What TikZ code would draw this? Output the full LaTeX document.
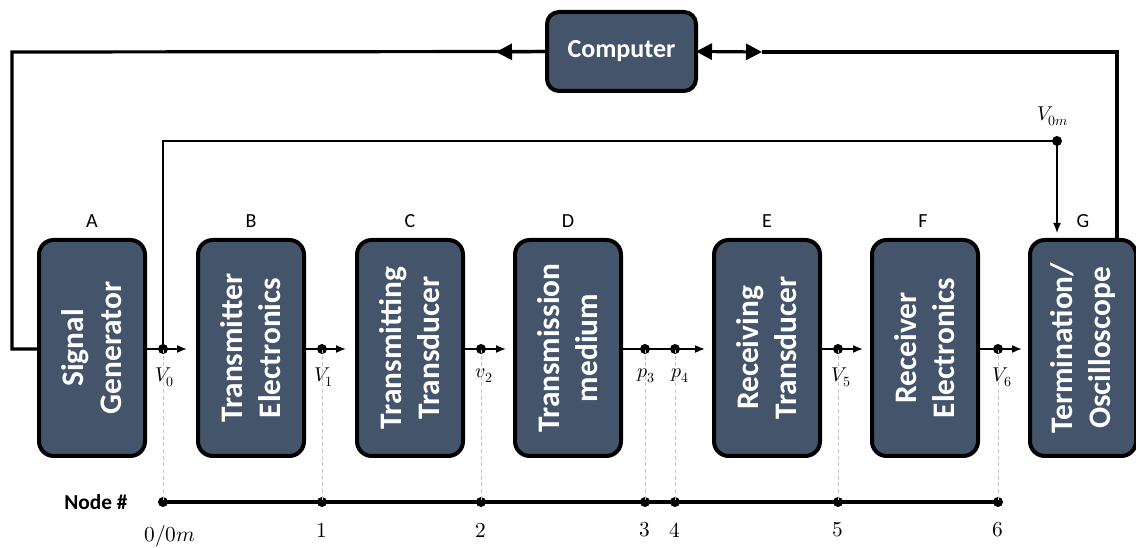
\documentclass[tikz,border=0pt]{standalone}
\usepackage{fontspec}
\usepackage{unicode-math}
\setsansfont{Carlito}
\setmathfont{Latin Modern Math}
\usetikzlibrary{arrows.meta}
\definecolor{blockfill}{HTML}{44546A}
\definecolor{guidegray}{RGB}{200,200,200}

\begin{document}
\begin{tikzpicture}[x=0.75pt,y=-0.75pt,
  blk/.style={draw=black, line width=3pt, fill=blockfill, rounded corners=11pt,
    minimum width=79.5pt, minimum height=162pt, inner sep=0pt, outer sep=0pt},
  blktxt/.style={rotate=90, text=white, align=center,
    font=\sffamily\bfseries\fontsize{23.5}{28.5}\selectfont},
  cpu/.style={draw=black, line width=3pt, fill=blockfill, rounded corners=9pt,
    minimum width=111.75pt, minimum height=59.25pt, inner sep=0pt, outer sep=0pt,
    text=white, font=\sffamily\bfseries\fontsize{19.5}{23}\selectfont},
  tag/.style={font=\sffamily\fontsize{15}{18}\selectfont},
  dot/.style={circle, fill=black, inner sep=0pt, minimum size=7.5pt},
  sig/.style={line width=1.2pt, -{Latex[length=7.5pt,width=6pt]}},
  thinline/.style={line width=1.1pt},
  bus/.style={line width=2.4pt},
  bigtip/.style={-{Triangle[length=12pt,width=12pt]}},
  nline/.style={line width=2.4pt},
  guide/.style={draw=guidegray, line width=0.6pt, dash pattern=on 3pt off 2pt},
  vlab/.style={anchor=north, inner sep=0pt, font=\fontsize{15}{18}\selectfont},
  num/.style={inner sep=0pt, font=\fontsize{16}{19}\selectfont}
]
\useasboundingbox (0,0) rectangle (1136,548);

% processing chain
\node[blk] (A) at (92,348) {};
\node[blk] (B) at (251,348) {};
\node[blk] (C) at (410,348) {};
\node[blk] (D) at (568,348) {};
\node[blk] (E) at (767,348) {};
\node[blk] (F) at (925,348) {};
\node[blk] (G) at (1083,348) {};

\node[blktxt] (tA) at (A) {Signal\\Generator};
\node[blktxt] (tB) at (B) {Transmitter\\Electronics};
\node[blktxt] (tC) at (C) {Transmitting\\Transducer};
\node[blktxt] (tD) at (D) {Transmission\\medium};
\node[blktxt] (tE) at (E) {Receiving\\Transducer};
\node[blktxt] (tF) at (F) {Receiver\\Electronics};
\node[blktxt] (tG) at (G) {Termination/\\Oscilloscope};

\node[tag] (lA) at (92,221) {A};
\node[tag] (lB) at (251,221) {B};
\node[tag] (lC) at (410,221) {C};
\node[tag] (lD) at (568,221) {D};
\node[tag] (lE) at (767,221) {E};
\node[tag] (lF) at (923,221) {F};
\node[tag] (lG) at (1083,221) {G};

% computer
\node[cpu] (PC) at (621.5,51.5) {Computer};

% measurement points on the signal path
\node[dot] (v0) at (163,349) {};
\node[dot] (v1) at (322,349) {};
\node[dot] (v2) at (481,349) {};
\node[dot] (p3) at (645,349) {};
\node[dot] (p4) at (675,349) {};
\node[dot] (v5) at (838,349) {};
\node[dot] (v6) at (998,349) {};
\node[dot] (v0m) at (1057,141) {};

% node axis
\node[dot] (n0) at (163,502) {};
\node[dot] (n1) at (322,502) {};
\node[dot] (n2) at (481,502) {};
\node[dot] (n3) at (645,502) {};
\node[dot] (n4) at (675,502) {};
\node[dot] (n5) at (838,502) {};
\node[dot] (n6) at (998,502) {};

% guides from the signal path down to the axis
\draw[guide] (v0.center) -- (n0.center);
\draw[guide] (v1.center) -- (n1.center);
\draw[guide] (v2.center) -- (n2.center);
\draw[guide] (p3.center) -- (n3.center);
\draw[guide] (p4.center) -- (n4.center);
\draw[guide] (v5.center) -- (n5.center);
\draw[guide] (v6.center) -- (n6.center);

\draw[nline] (n0.center) -- (n6.center);

% signal arrows
\coordinate (t0) at (187,349);
\coordinate (t1) at (346,349);
\coordinate (t2) at (506,349);
\coordinate (t3) at (705,349);
\coordinate (t5) at (863,349);
\coordinate (t6) at (1022,349);
\draw[sig] (A.east |- v0) -- (v0.center) -- (t0);
\draw[sig] (B.east |- v1) -- (v1.center) -- (t1);
\draw[sig] (C.east |- v2) -- (v2.center) -- (t2);
\draw[sig] (D.east |- p3) -- (p3.center) -- (p4.center) -- (t3);
\draw[sig] (E.east |- v5) -- (v5.center) -- (t5);
\draw[sig] (F.east |- v6) -- (v6.center) -- (t6);

% monitor tap V0 -> oscilloscope
\coordinate (tg) at (1057,233);
\draw[thinline] (v0.center) |- (v0m.center);
\draw[thinline, -{Latex[length=7.5pt,width=6pt]}] (v0m.center) -- (tg);

% computer links
\coordinate (k1) at (12,52);
\coordinate (k2) at (1117,52);
\coordinate (c1) at (496,52);
\coordinate (c2) at (762,52);
\draw[bus] (PC.west) -- (k1) |- (A.west |- v0);
\draw[bus, bigtip] (PC.west) -- (c1);
\draw[bus, {Triangle[length=12pt,width=12pt]}-{Triangle[length=12pt,width=12pt]}] (PC.east) -- (c2);
\draw[bus] (c2) -- (k2) -- (k2 |- G.north);

% labels
\node[vlab] (lv0) at (165,368) {$V_0$};
\node[vlab] (lv1) at (324,368) {$V_1$};
\node[vlab] (lv2) at (484,368) {$v_2$};
\node[vlab] (lp3) at (646,368) {$p_3$};
\node[vlab] (lp4) at (680,368) {$p_4$};
\node[vlab] (lv5) at (841,368) {$V_5$};
\node[vlab] (lv6) at (1002,368) {$V_6$};
\node[vlab, anchor=center] (lv0m) at (1053,116) {$V_{0m}$};

\node[font=\sffamily\bfseries\fontsize{16}{19}\selectfont] (hdr) at (96,502) {Node \#};
\node[num] (k0) at (170,536) {$0/0m$};
\node[num] (k1n) at (322,530) {$1$};
\node[num] (k2n) at (481,530) {$2$};
\node[num] (k3n) at (645,530) {$3$};
\node[num] (k4n) at (675,530) {$4$};
\node[num] (k5n) at (838,530) {$5$};
\node[num] (k6n) at (998,530) {$6$};
\end{tikzpicture}
\end{document}
